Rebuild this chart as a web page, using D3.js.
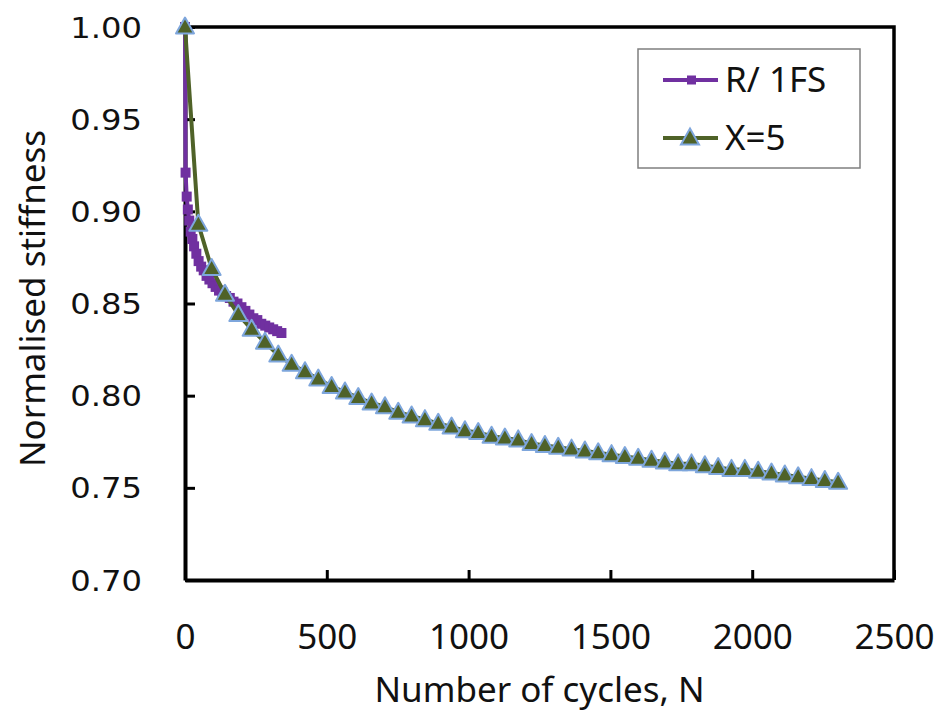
<!DOCTYPE html>
<html>
<head>
<meta charset="utf-8">
<script src="https://cdn.jsdelivr.net/npm/d3@7"></script>
<style>
  body { margin: 0; background: #fff; }
  svg { display: block; }
</style>
</head>
<body>
<div id="chart"></div>
<script>
// series 1: R/ 1FS (purple squares)
const r1fsCycles = [0, 2, 6, 10, 15, 20, 26, 32, 40, 48, 57, 66, 76, 86, 97, 108, 120, 132, 145,
    158, 171, 185, 199, 213, 227, 241, 255, 269, 283, 297, 311, 325, 340];
const r1fsStiffness = [1.000, 0.921, 0.908, 0.901, 0.895, 0.889, 0.885, 0.881, 0.877, 0.873, 0.870,
    0.868, 0.865, 0.863, 0.861, 0.859, 0.857, 0.856, 0.854, 0.853, 0.851, 0.850, 0.848, 0.846,
    0.844, 0.842, 0.841, 0.839, 0.838, 0.837, 0.836, 0.835, 0.834];

// series 2: X=5 (green triangles)
const x5Cycles = [0, 47, 94, 141, 188, 235, 282, 329, 376, 423, 470, 517, 564, 611, 658, 705, 752,
    799, 846, 893, 940, 987, 1034, 1081, 1128, 1175, 1222, 1269, 1316, 1363, 1410, 1457, 1504,
    1551, 1598, 1645, 1692, 1739, 1786, 1833, 1880, 1927, 1974, 2021, 2068, 2115, 2162, 2209,
    2256, 2303];
const x5Stiffness = [1.000, 0.893, 0.869, 0.855, 0.844, 0.836, 0.829, 0.822, 0.817, 0.813, 0.809,
    0.805, 0.802, 0.799, 0.796, 0.794, 0.791, 0.789, 0.787, 0.785, 0.783, 0.781, 0.780, 0.778,
    0.777, 0.776, 0.774, 0.773, 0.772, 0.771, 0.770, 0.769, 0.768, 0.767, 0.766, 0.765, 0.764,
    0.763, 0.763, 0.762, 0.761, 0.760, 0.760, 0.759, 0.758, 0.757, 0.756, 0.755, 0.754, 0.753];

const xTicks = [0, 500, 1000, 1500, 2000, 2500];
const yTicks = [0.70, 0.75, 0.80, 0.85, 0.90, 0.95, 1.00];
const seriesNames = ["R/ 1FS", "X=5"];

const totalW = 944, totalH = 717;
const margin = { top: 27, right: 50, bottom: 137, left: 185 };
const width = totalW - margin.left - margin.right;
const height = totalH - margin.top - margin.bottom;

const purple = "#7030a0", green = "#4f6228", triEdge = "#7ea6dc";

const svg = d3.select("#chart").append("svg")
    .attr("width", totalW)
    .attr("height", totalH)
    .append("g")
    .attr("transform", "translate(" + margin.left + "," + margin.top + ")");

const x = d3.scaleLinear().domain([0, 2500]).range([0, width]);
const y = d3.scaleLinear().domain([0.70, 1.00]).range([height, 0]);

// frame (top + right)
svg.append("path")
    .attr("d", `M0,0H${width}V${height}`)
    .attr("fill", "none")
    .attr("stroke", "#000")
    .attr("stroke-width", 3.5);

// axes, ticks point inwards
const xAxis = d3.axisBottom(x).tickValues(xTicks).tickSizeInner(-10).tickSizeOuter(0)
    .tickFormat(d3.format("d"));
const yAxis = d3.axisLeft(y).tickValues(yTicks).tickSizeInner(-10).tickSizeOuter(0)
    .tickFormat(d3.format(".2f"));

const gx = svg.append("g").attr("transform", `translate(0,${height})`).call(xAxis);
gx.select(".domain").attr("stroke-width", 4);
gx.selectAll(".tick line").attr("stroke-width", 3);
gx.selectAll(".tick text")
    .attr("y", 69)
    .attr("dy", 0)
    .style("font-family", "'Noto Sans', sans-serif")
    .style("font-size", "35px")
    .attr("fill", "#111");

const gy = svg.append("g").call(yAxis);
gy.select(".domain").attr("stroke-width", 4);
gy.selectAll(".tick line").attr("stroke-width", 3);
gy.selectAll(".tick text")
    .attr("x", -43 / 1.15)
    .attr("dy", "0.36em")
    .attr("transform", "scale(1.15,1)")
    .style("font-family", "'DejaVu Sans', sans-serif")
    .style("font-size", "28px")
    .attr("fill", "#111");

// axis titles
svg.append("text")
    .attr("x", width / 2)
    .attr("y", height + 122)
    .attr("text-anchor", "middle")
    .style("font-family", "'Noto Sans', sans-serif")
    .style("font-size", "35px")
    .attr("fill", "#111")
    .text("Number of cycles, N");

svg.append("text")
    .attr("transform", `translate(${-140},${height / 2 - 5}) rotate(-90)`)
    .attr("text-anchor", "middle")
    .style("font-family", "'Noto Sans', sans-serif")
    .style("font-size", "35px")
    .attr("fill", "#111")
    .text("Normalised stiffness");

const line = d3.line().x(d => x(d[0])).y(d => y(d[1]));
const r1fs = r1fsCycles.map((c, i) => [c, r1fsStiffness[i]]);
const x5 = x5Cycles.map((c, i) => [c, x5Stiffness[i]]);

const triangle = "M0,-9.5L9,6.5L-9,6.5Z";

// R/ 1FS
svg.append("path")
    .datum(r1fs)
    .attr("d", line)
    .attr("fill", "none")
    .attr("stroke", purple)
    .attr("stroke-width", 4);
svg.selectAll(".sq").data(r1fs).enter().append("rect")
    .attr("class", "sq")
    .attr("x", d => x(d[0]) - 5)
    .attr("y", d => y(d[1]) - 5)
    .attr("width", 10)
    .attr("height", 10)
    .attr("fill", purple);

// X=5
svg.append("path")
    .datum(x5)
    .attr("d", line)
    .attr("fill", "none")
    .attr("stroke", green)
    .attr("stroke-width", 4);
svg.selectAll(".tri").data(x5).enter().append("path")
    .attr("class", "tri")
    .attr("d", triangle)
    .attr("transform", d => `translate(${x(d[0])},${y(d[1])})`)
    .attr("fill", green)
    .attr("stroke", triEdge)
    .attr("stroke-width", 2)
    .attr("stroke-linejoin", "round");

// legend
const legend = svg.append("g").attr("transform", `translate(${638 - margin.left},${49 - margin.top})`);
legend.append("rect")
    .attr("width", 222)
    .attr("height", 119)
    .attr("fill", "#fff")
    .attr("stroke", "#7f7f7f")
    .attr("stroke-width", 1.5);

const legendRows = [
    { name: seriesNames[0], color: purple, y: 31 },
    { name: seriesNames[1], color: green, y: 89 }
];
legendRows.forEach((r, i) => {
    legend.append("line")
        .attr("x1", 25).attr("x2", 80)
        .attr("y1", r.y).attr("y2", r.y)
        .attr("stroke", r.color)
        .attr("stroke-width", 4);
    if (i == 0) {
        legend.append("rect")
            .attr("x", 49).attr("y", r.y - 4.5)
            .attr("width", 9).attr("height", 9)
            .attr("fill", purple);
    } else {
        legend.append("path")
            .attr("d", triangle)
            .attr("transform", `translate(52,${r.y})`)
            .attr("fill", green)
            .attr("stroke", triEdge)
            .attr("stroke-width", 2);
    }
    legend.append("text")
        .attr("x", 87)
        .attr("y", r.y + 12)
        .style("font-family", "'Noto Sans', sans-serif")
        .style("font-size", "35px")
        .attr("fill", "#111")
        .text(r.name);
});
</script>
</body>
</html>
